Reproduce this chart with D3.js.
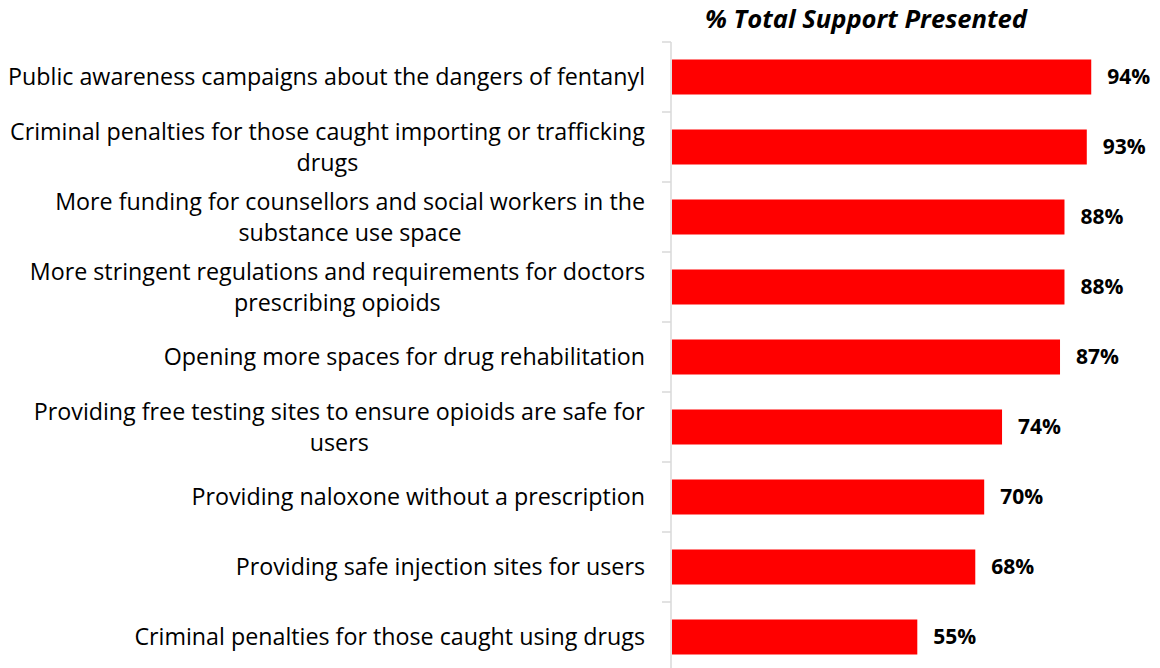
<!DOCTYPE html>
<html>
<head>
<meta charset="utf-8">
<script src="https://cdn.jsdelivr.net/npm/d3@7"></script>
<style>
body { margin: 0; background: #fff; }
svg text { font-family: "Open Sans", Lato, sans-serif; }
</style>
</head>
<body>
<svg id="myGraph" width="1160" height="668"></svg>
<script>
// chart data
var categories = [
  "Public awareness campaigns about the dangers of fentanyl",
  "Criminal penalties for those caught importing or trafficking|drugs",
  "More funding for counsellors and social workers in the|substance use space",
  "More stringent regulations and requirements for doctors|prescribing opioids",
  "Opening more spaces for drug rehabilitation",
  "Providing free testing sites to ensure opioids are safe for|users",
  "Providing naloxone without a prescription",
  "Providing safe injection sites for users",
  "Criminal penalties for those caught using drugs"
];
var values = [0.94, 0.93, 0.88, 0.88, 0.87, 0.74, 0.70, 0.68, 0.55];
var title = "% Total Support Presented";

var svg = d3.select("#myGraph");

var x0 = 672;
var x = d3.scaleLinear().domain([0, 1]).range([x0, x0 + 446]);
var y = d3.scaleBand().domain(d3.range(categories.length)).range([42, 672]).paddingInner(0.5).paddingOuter(0.25);

// fit a font size so a text gets the target width
function fitSize(sel, target){
  var w = sel.node().getComputedTextLength();
  var fs = parseFloat(sel.style("font-size"));
  return fs * target / w;
}

// title
var tt = svg.append("text")
  .attr("x", 866).attr("y", 28)
  .attr("text-anchor", "middle")
  .style("font-size", "22px").style("font-weight", "bold").style("font-style", "italic")
  .text(title);
tt.style("font-size", fitSize(tt, 322) + "px");

// bars
svg.selectAll("rect.bar")
  .data(values)
  .enter()
  .append("rect")
  .attr("class", "bar")
  .attr("x", x(0))
  .attr("y", function(d, i){ return y(i); })
  .attr("width", function(d){ return x(d) - x(0); })
  .attr("height", y.bandwidth())
  .attr("fill", "#ff0000");

// value labels
var vals = svg.selectAll("text.val")
  .data(values)
  .enter()
  .append("text")
  .attr("class", "val")
  .attr("x", function(d){ return x(d) + 16; })
  .attr("y", function(d, i){ return y(i) + y.bandwidth() / 2; })
  .attr("dy", "0.35em")
  .style("font-size", "20px").style("font-weight", "bold")
  .text(function(d){ return Math.round(d * 100) + "%"; });
var vfs = fitSize(d3.select(vals.node()), 43);
vals.style("font-size", vfs + "px");

// axis (category boundaries)
var edge = d3.scaleLinear().domain([0, categories.length]).range([42, 672]);
svg.append("line")
  .attr("x1", x0 - 1).attr("x2", x0 - 1)
  .attr("y1", edge(0)).attr("y2", edge(categories.length))
  .attr("stroke", "#d9d9d9").attr("stroke-width", 1.5);
svg.selectAll("line.tick")
  .data(d3.range(categories.length + 1))
  .enter()
  .append("line")
  .attr("class", "tick")
  .attr("x1", x0 - 10).attr("x2", x0 - 1)
  .attr("y1", function(d){ return edge(d); })
  .attr("y2", function(d){ return edge(d); })
  .attr("stroke", "#d9d9d9").attr("stroke-width", 1.5);

// category labels
var probe = svg.append("text").style("font-size", "20px").text(categories[0]);
var cfs = fitSize(probe, 637);
probe.remove();

var lineH = 31;
categories.forEach(function(c, i){
  var lines = c.split("|");
  var cy = y(i) + y.bandwidth() / 2;
  var t = svg.append("text")
    .attr("class", "cat")
    .attr("text-anchor", "middle")
    .style("font-size", cfs + "px")
    .attr("y", cy - (lines.length - 1) * lineH / 2);
  lines.forEach(function(l, j){
    t.append("tspan")
      .attr("x", 0)
      .attr("dy", j == 0 ? "0.35em" : lineH)
      .text(l);
  });
  // right-align block, center lines within it
  var w = t.node().getBBox().width;
  t.selectAll("tspan").attr("x", 645 - w / 2);
});
</script>
</body>
</html>
